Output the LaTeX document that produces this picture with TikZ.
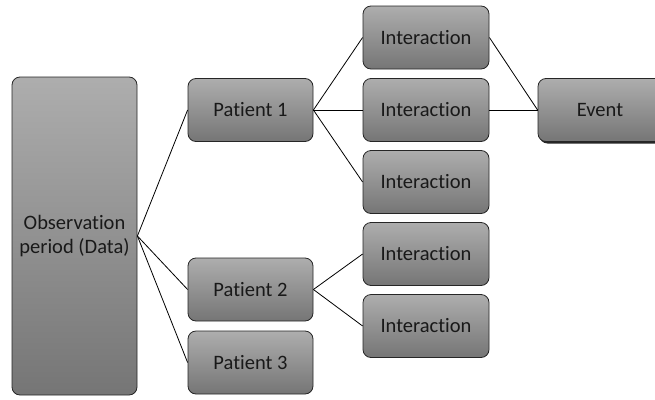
\documentclass[tikz,border=0pt]{standalone}
\usepackage{fontspec}
\setmainfont{Carlito}[Ligatures=NoCommon]
\begin{document}
\begin{tikzpicture}[x=1pt,y=-1pt,
  box/.style={draw=black!85,line width=0.8pt,rounded corners=8pt,top color=black!32,bottom color=black!54,
    font=\fontsize{20.5}{24}\selectfont,text=black!90,align=center,inner sep=0pt},
  link/.style={line width=0.8pt,black}]
\useasboundingbox (0,0) rectangle (655,399);
\begin{scope}
\clip (0,0) rectangle (655,399);
\node[box,minimum width=125pt,minimum height=318pt] (obs) at (74.5,236) {Observation\\period (Data)};
\node[box,minimum width=125pt,minimum height=63pt] (p1) at (250.5,110) {Patient 1};
\node[box,minimum width=125pt,minimum height=63pt] (p2) at (250.5,289.5) {Patient 2};
\node[box,minimum width=125pt,minimum height=63pt] (p3) at (250.5,362.5) {Patient 3};
\node[box,minimum width=126pt,minimum height=63pt] (i1) at (426,37.5) {Interaction};
\node[box,minimum width=126pt,minimum height=63pt] (i2) at (426,110) {Interaction};
\node[box,minimum width=126pt,minimum height=63pt] (i3) at (426,182) {Interaction};
\node[box,minimum width=126pt,minimum height=63pt] (i4) at (426,254) {Interaction};
\node[box,minimum width=126pt,minimum height=63pt] (i5) at (426,326) {Interaction};
\fill[black!85,rounded corners=8pt] (539.5,81) rectangle (670,143.5);
\node[box,minimum width=126pt,minimum height=63pt] (ev) at (601,110) {\hspace*{-2pt}Event};
\end{scope}
\draw[link] (obs.east) -- (p1.west);
\draw[link] (obs.east) -- (p2.west);
\draw[link] (obs.east) -- (p3.west);
\draw[link] (p1.east) -- (i1.west);
\draw[link] (p1.east) -- (i2.west);
\draw[link] (p1.east) -- (i3.west);
\draw[link] (p2.east) -- (i4.west);
\draw[link] (p2.east) -- (i5.west);
\draw[link] (i1.east) -- (ev.west);
\draw[link] (i2.east) -- (ev.west);
\end{tikzpicture}
\end{document}
